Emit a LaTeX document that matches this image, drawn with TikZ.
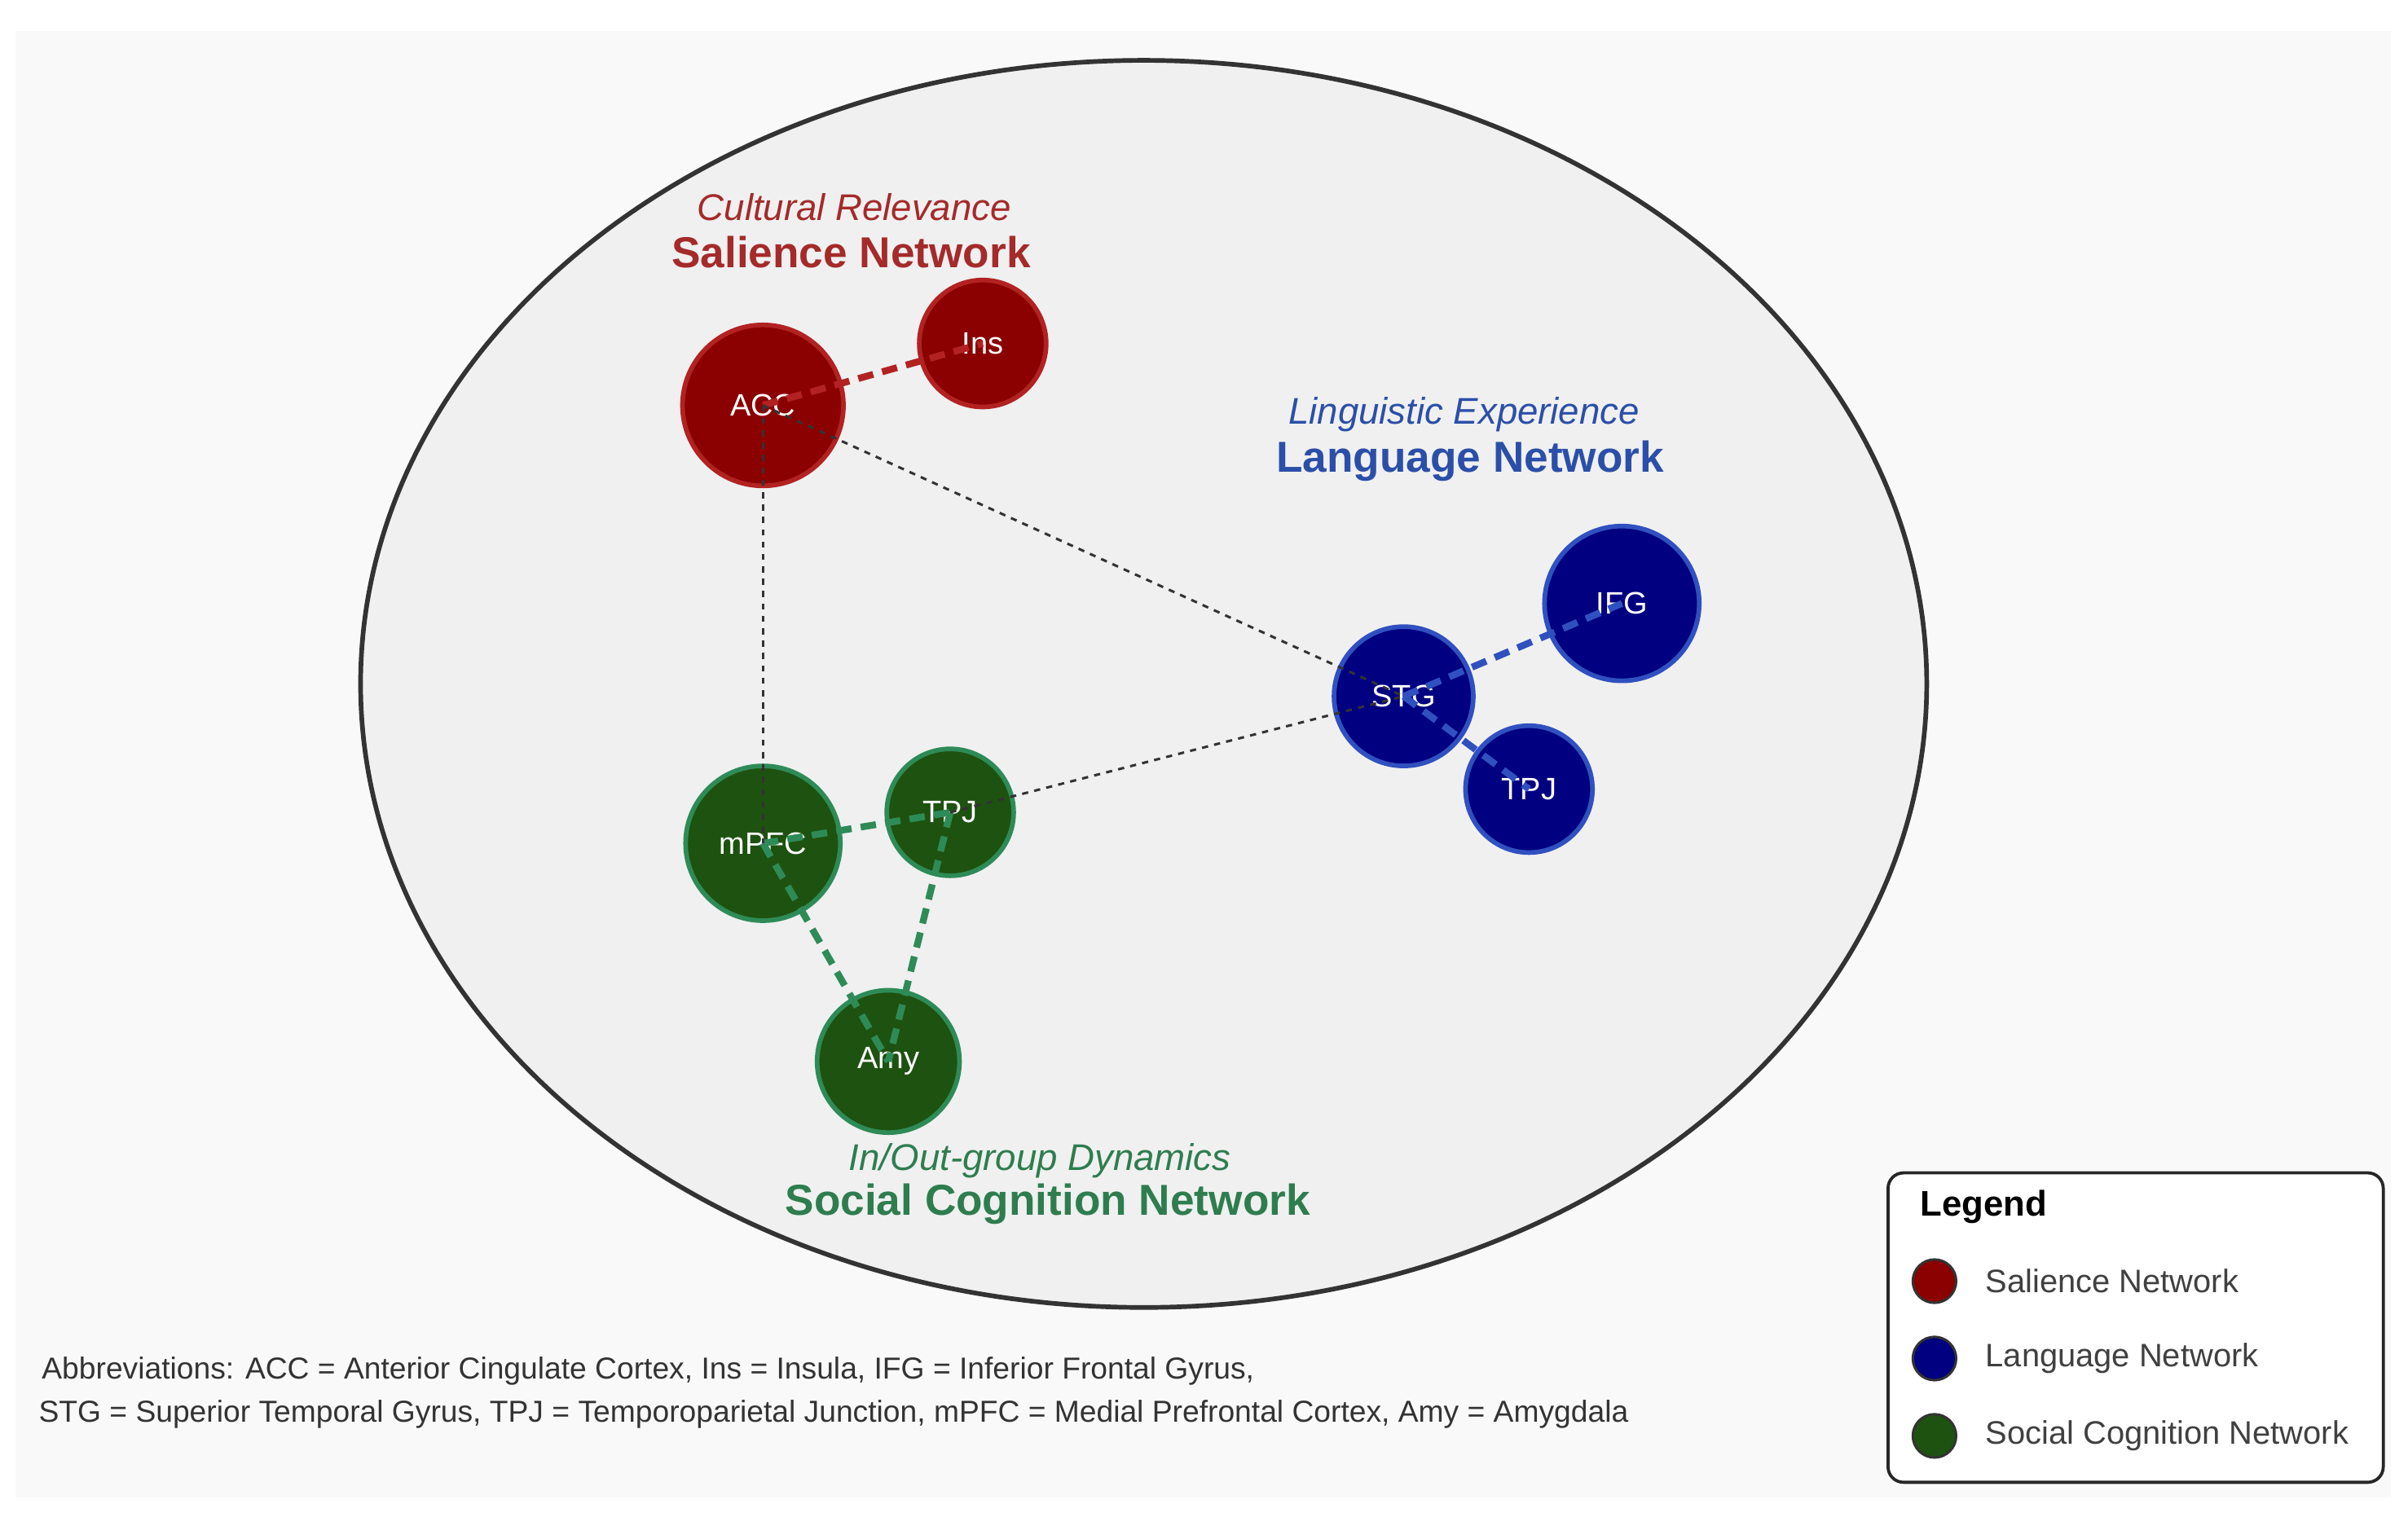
\documentclass[tikz,border=0pt]{standalone}
\usepackage{fontspec}
\setmainfont{Liberation Sans}
\begin{document}
\begin{tikzpicture}[x=0.5pt,y=-0.5pt,
  sal/.style={circle,fill=salF,draw=salB,line width=1.5pt,text=white,inner sep=0pt,font=\fontsize{10}{11}\selectfont},
  lan/.style={circle,fill=lanF,draw=lanB,line width=1.5pt,text=white,inner sep=0pt,font=\fontsize{10}{11}\selectfont},
  soc/.style={circle,fill=socF,draw=socB,line width=1.5pt,text=white,inner sep=0pt,font=\fontsize{10}{11}\selectfont},
  intra/.style={line width=2.2pt,dash pattern=on 5pt off 3pt},
  inter/.style={line width=0.8pt,dash pattern=on 2pt off 2pt,draw=black!80}]
\definecolor{salF}{HTML}{8B0000}\definecolor{salB}{HTML}{B22222}
\definecolor{lanF}{HTML}{000080}\definecolor{lanB}{HTML}{3050C0}
\definecolor{socF}{HTML}{1E5210}\definecolor{socB}{HTML}{2E8B57}
\definecolor{salT}{HTML}{A52A2A}\definecolor{lanT}{HTML}{2B4FA8}\definecolor{socT}{HTML}{2E7D4F}
\useasboundingbox (0,0) rectangle (1556,986);
\fill[white] (0,0) rectangle (1556,986);
\fill[gray!5] (10,20) rectangle (1545,968);
\draw[fill=gray!12,draw=black!80,line width=1.5pt] (739,442) ellipse [x radius=506, y radius=403];
\node[sal,minimum size=52pt] (acc) at (493,262) {ACC};
\node[sal,minimum size=41pt] (ins) at (635,222) {Ins};
\node[lan,minimum size=45pt] (stg) at (907,450) {STG};
\node[lan,minimum size=50pt] (ifg) at (1048,390) {IFG};
\node[lan,minimum size=41pt] (tpjb) at (988,510) {TPJ};
\node[soc,minimum size=50pt] (mpfc) at (493,545) {mPFC};
\node[soc,minimum size=41pt] (tpjg) at (614,525) {TPJ};
\node[soc,minimum size=46pt] (amy) at (574,686) {Amy};
\draw[intra,draw=salB] (acc.center) -- (ins.center);
\draw[intra,draw=lanB] (stg.center) -- (ifg.center);
\draw[intra,draw=lanB] (stg.center) -- (tpjb.center);
\draw[intra,draw=socB] (mpfc.center) -- (tpjg.center);
\draw[intra,draw=socB] (mpfc.center) -- (amy.center);
\draw[intra,draw=socB] (tpjg.center) -- (amy.center);
\draw[inter] (acc.center) -- (stg.center);
\draw[inter] (acc.center) -- (mpfc.center);
\draw[inter] (tpjg.center) -- (stg.center);
\node[text=salT,font=\fontsize{12}{13}\selectfont\itshape] (t1) at (552,134) {Cultural Relevance};
\node[text=salT,font=\fontsize{14}{15}\selectfont\bfseries] (t2) at (550,163) {Salience Network};
\node[text=lanT,font=\fontsize{12}{13}\selectfont\itshape] (t3) at (946,268) {Linguistic Experience};
\node[text=lanT,font=\fontsize{14}{15}\selectfont\bfseries] (t4) at (950,298) {Language Network};
\node[text=socT,font=\fontsize{12}{13}\selectfont\itshape] (t5) at (672,750) {In/Out-group Dynamics};
\node[text=socT,font=\fontsize{14}{15}\selectfont\bfseries] (t6) at (677,778) {Social Cognition Network};
\draw[fill=white,draw=black!85,line width=1pt,rounded corners=5pt] (1220,758) rectangle (1540,958);
\node[anchor=west,font=\fontsize{11.5}{12}\selectfont\bfseries] (lg) at (1234,780) {Legend};
\foreach \y/\f/\t [count=\i] in {828/salF/Salience Network,878/lanF/Language Network,928/socF/Social Cognition Network}{
  \node[circle,fill=\f,draw=black!80,line width=0.8pt,minimum size=14pt,inner sep=0pt] (lc\i) at (1250,\y) {};
  \node[anchor=west,text=black!75,font=\fontsize{10.5}{12}\selectfont] (lt\i) at (1276,\y) {\t};
}
\node[anchor=west,text=black!80,font=\fontsize{9.8}{10}\selectfont] (ab1) at (20,886) {Abbreviations: ACC = Anterior Cingulate Cortex, Ins = Insula, IFG = Inferior Frontal Gyrus,};
\node[anchor=west,text=black!80,font=\fontsize{9.8}{10}\selectfont] (ab2) at (18,914) {STG = Superior Temporal Gyrus, TPJ = Temporoparietal Junction, mPFC = Medial Prefrontal Cortex, Amy = Amygdala};
\end{tikzpicture}
\end{document}
